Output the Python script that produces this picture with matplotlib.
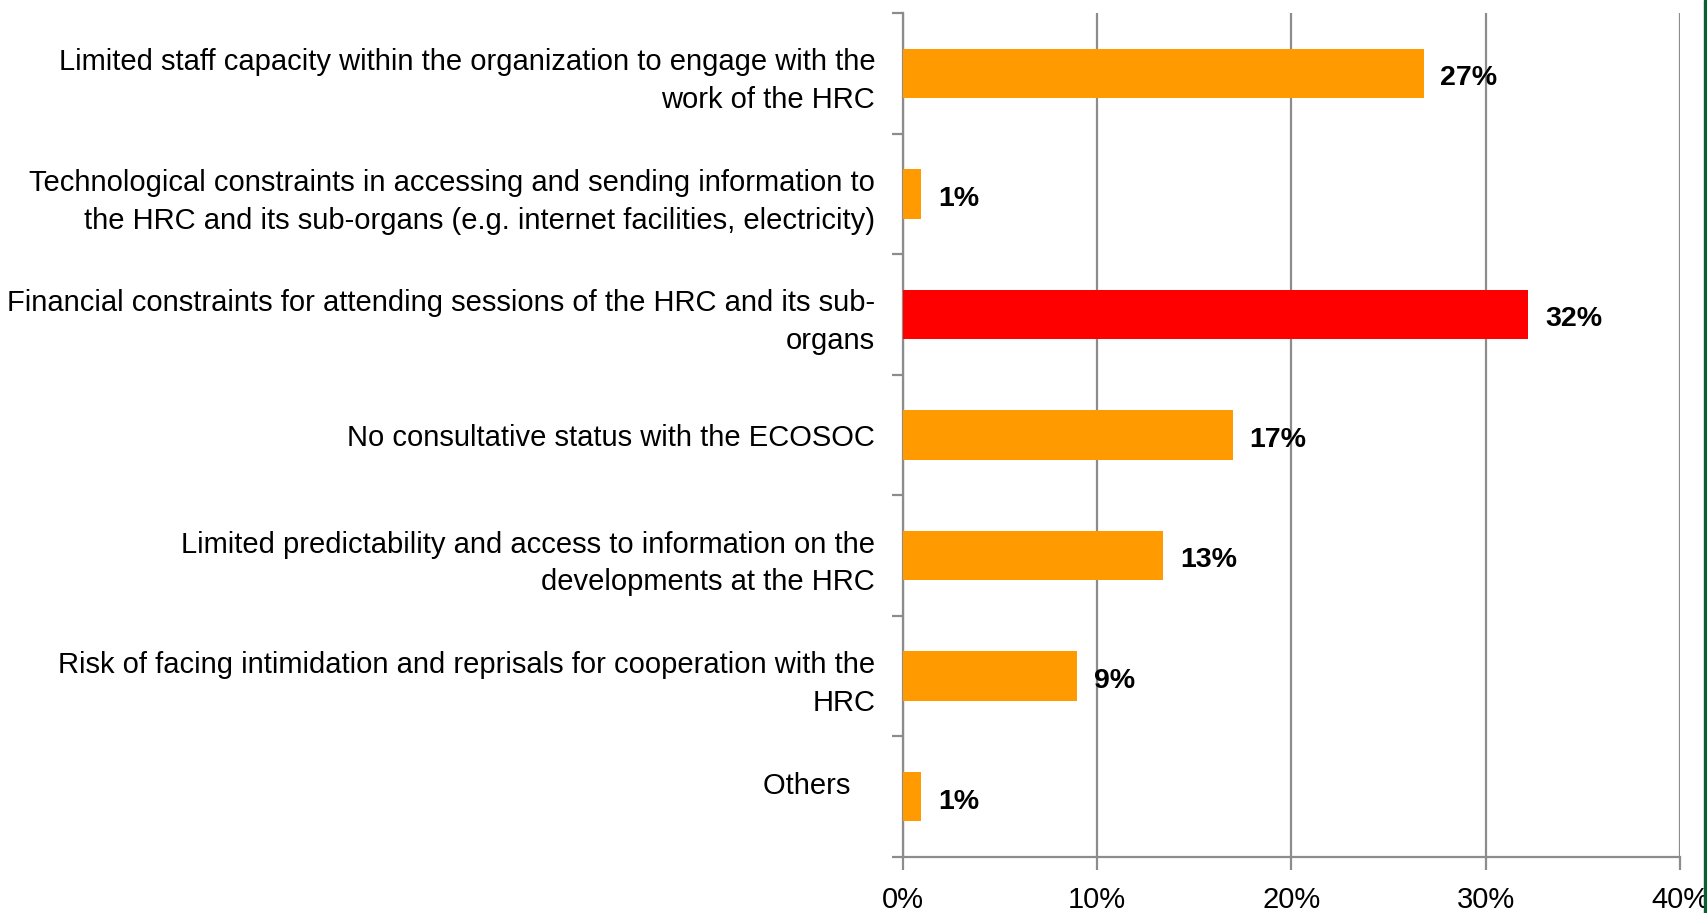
import numpy as np
import matplotlib
matplotlib.use('Agg')
import matplotlib.pyplot as plt
from matplotlib.patches import Rectangle

plt.rcParams['font.family'] = ['Liberation Sans', 'DejaVu Sans']

categories = [
    'Limited staff capacity within the organization to engage with the\nwork of the HRC',
    'Technological constraints in accessing and sending information to\nthe HRC and its sub-organs (e.g. internet facilities, electricity)',
    'Financial constraints for attending sessions of the HRC and its sub-\norgans',
    'No consultative status with the ECOSOC',
    'Limited predictability and access to information on the\ndevelopments at the HRC',
    'Risk of facing intimidation and reprisals for cooperation with the\nHRC',
    'Others   \n ',
]
values = [26.8, 0.95, 32.2, 17.0, 13.4, 8.98, 0.95]
value_labels = ['27%', '1%', '32%', '17%', '13%', '9%', '1%']
colors = ['#FF9A00', '#FF9A00', '#FF0000', '#FF9A00', '#FF9A00', '#FF9A00', '#FF9A00']
x_ticks = [0, 10, 20, 30, 40]
x_tick_labels = ['0%', '10%', '20%', '30%', '40%']

fig = plt.figure(figsize=(17.08, 9.13), dpi=100)
ax = fig.add_axes([903 / 1708, 56 / 913, 777 / 1708, 844 / 913])

grid_c = '#8C8C8C'
pos = np.arange(len(categories))
ax.barh(pos, values, height=0.41, color=colors, zorder=3)

# data labels just right of each bar
for p, v, lab in zip(pos, values, value_labels):
    ax.text(v + 0.85, p + 0.04, lab, va='center', ha='left',
            fontsize=20.5, fontweight='bold', zorder=4)

ax.set_xlim(0, 40)
ax.set_ylim(len(categories) - 0.5, -0.5)
ax.set_xticks(x_ticks)
ax.set_xticklabels(x_tick_labels, fontsize=21)
ax.xaxis.grid(True, color=grid_c, linewidth=1.6, zorder=0)

ax.set_yticks(pos)
ax.set_yticklabels(categories, fontsize=21, linespacing=1.45)
ax.set_yticks(np.arange(-0.5, len(categories), 1.0), minor=True)
ax.tick_params(axis='y', which='major', length=0, pad=20)
ax.tick_params(axis='y', which='minor', length=8, width=1.6, color=grid_c)
ax.tick_params(axis='x', length=9, width=1.6, color=grid_c, pad=12)

for s in ['top', 'right']:
    ax.spines[s].set_visible(False)
for s in ['left', 'bottom']:
    ax.spines[s].set_color(grid_c)
    ax.spines[s].set_linewidth(1.6)

# green slide border on the right edge
fig.add_artist(Rectangle((1704 / 1708, 0), 4 / 1708, 1, transform=fig.transFigure,
                         color='#0B5E32', zorder=10))

fig.savefig('out.png', dpi=100)
